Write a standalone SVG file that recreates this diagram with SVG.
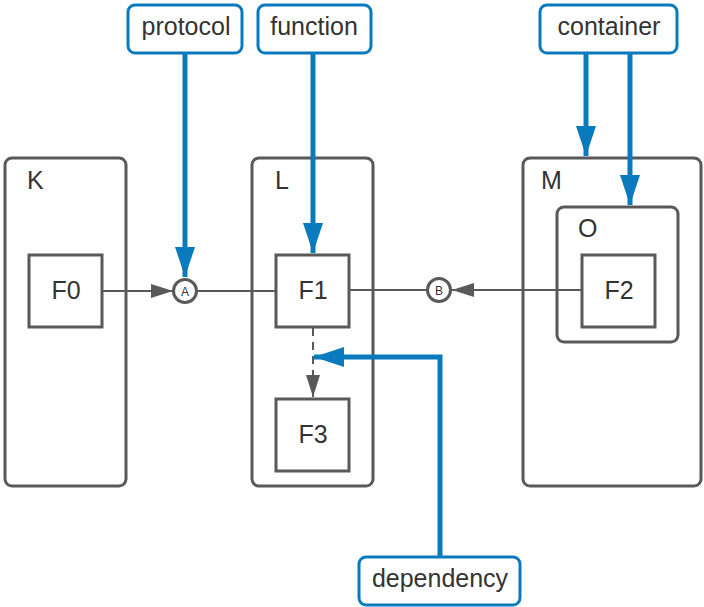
<svg xmlns="http://www.w3.org/2000/svg" width="704" height="607" viewBox="0 0 704 607">
  <style>
    .box { fill: #ffffff; stroke: #595959; stroke-width: 3; }
    .note { fill: #ffffff; stroke: #0a7abf; stroke-width: 3; }
    .txt { font-family: "Liberation Sans", Arial, sans-serif; font-size: 25px; fill: #333333; }
    .ctr { text-anchor: middle; }
    .wire { stroke: #595959; stroke-width: 2; fill: none; }
    .dash { stroke: #595959; stroke-width: 2; fill: none; stroke-dasharray: 8 6; }
    .blue { stroke: #0a7abf; stroke-width: 5; fill: none; }
    .port { fill: #ffffff; stroke: #595959; stroke-width: 3; }
    .portlbl { font-family: "Liberation Sans", Arial, sans-serif; font-size: 12px; fill: #333333; text-anchor: middle; }
  </style>
  <defs>
    <marker id="grayArrow" markerWidth="22" markerHeight="14" refX="22" refY="7" orient="auto" markerUnits="userSpaceOnUse">
      <path d="M0,0 L22,7 L0,14 Z" fill="#595959"/>
    </marker>
    <marker id="blueArrow" markerWidth="30" markerHeight="20" refX="30" refY="10" orient="auto" markerUnits="userSpaceOnUse">
      <path d="M0,0 L30,10 L0,20 Z" fill="#0a7abf"/>
    </marker>
  </defs>

  <!-- containers -->
  <g id="K">
    <rect class="box" x="5" y="158" width="121" height="328" rx="7"/>
    <text class="txt" x="27" y="189">K</text>
  </g>
  <g id="L">
    <rect class="box" x="252" y="158" width="121" height="328" rx="7"/>
    <text class="txt" x="275" y="189">L</text>
  </g>
  <g id="M">
    <rect class="box" x="523" y="158" width="178" height="328" rx="7"/>
    <text class="txt" x="541" y="189">M</text>
  </g>
  <g id="O">
    <rect class="box" x="557" y="207" width="121" height="135" rx="7"/>
    <text class="txt" x="578" y="237">O</text>
  </g>

  <!-- functions -->
  <g id="F0">
    <rect class="box" x="29" y="255" width="73" height="72"/>
    <text class="txt ctr" x="66" y="299">F0</text>
  </g>
  <g id="F1">
    <rect class="box" x="276" y="255" width="73" height="72"/>
    <text class="txt ctr" x="313" y="299">F1</text>
  </g>
  <g id="F2">
    <rect class="box" x="582" y="255" width="73" height="72"/>
    <text class="txt ctr" x="619" y="299">F2</text>
  </g>
  <g id="F3">
    <rect class="box" x="276" y="399" width="73" height="72"/>
    <text class="txt ctr" x="313" y="443">F3</text>
  </g>

  <!-- connectors -->
  <g id="connectors">
    <line class="wire" x1="102" y1="291" x2="173" y2="291" marker-end="url(#grayArrow)"/>
    <line class="wire" x1="197" y1="291" x2="276" y2="291"/>
    <line class="wire" x1="349" y1="290" x2="427" y2="290"/>
    <line class="wire" x1="582" y1="290" x2="452" y2="290" marker-end="url(#grayArrow)"/>
    <line class="dash" x1="313" y1="328" x2="313" y2="372"/>
    <line class="wire" x1="313" y1="372" x2="313" y2="397" marker-end="url(#grayArrow)"/>
  </g>

  <!-- ports -->
  <g id="portA">
    <circle class="port" cx="185" cy="291" r="11.5"/>
    <text class="portlbl" x="185" y="295.5">A</text>
  </g>
  <g id="portB">
    <circle class="port" cx="439" cy="290" r="11.5"/>
    <text class="portlbl" x="439" y="294.5">B</text>
  </g>

  <!-- annotation leaders -->
  <g id="annotation-connectors">
    <line class="blue" x1="185" y1="53" x2="185" y2="277" marker-end="url(#blueArrow)"/>
    <line class="blue" x1="313" y1="53" x2="313" y2="253" marker-end="url(#blueArrow)"/>
    <line class="blue" x1="586" y1="53" x2="586" y2="156" marker-end="url(#blueArrow)"/>
    <line class="blue" x1="630" y1="53" x2="630" y2="205" marker-end="url(#blueArrow)"/>
    <polyline class="blue" points="440,557 440,357 314,357" marker-end="url(#blueArrow)"/>
  </g>

  <!-- annotations -->
  <g id="protocol">
    <rect class="note" x="128" y="5" width="114" height="48" rx="7"/>
    <text class="txt ctr" x="186" y="35">protocol</text>
  </g>
  <g id="function">
    <rect class="note" x="258" y="5" width="113" height="48" rx="7"/>
    <text class="txt ctr" x="314" y="35">function</text>
  </g>
  <g id="container">
    <rect class="note" x="540" y="5" width="137" height="48" rx="7"/>
    <text class="txt ctr" x="609" y="35">container</text>
  </g>
  <g id="dependency">
    <rect class="note" x="359" y="557" width="161" height="48" rx="7"/>
    <text class="txt ctr" x="440" y="587">dependency</text>
  </g>
</svg>
